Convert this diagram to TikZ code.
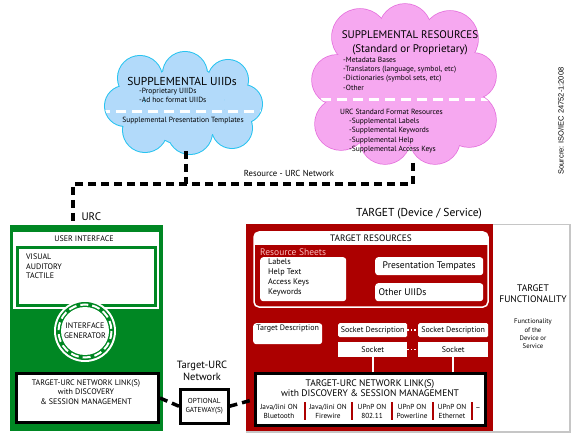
\documentclass[tikz,border=0pt]{standalone}
\usepackage{fontspec}
\setmainfont{PT Sans}
\newfontfamily\srcfont{Liberation Sans}
\usetikzlibrary{positioning}

\definecolor{urcgreen}{RGB}{0,135,35}
\definecolor{tgtred}{RGB}{172,0,0}
\definecolor{cloudblue}{RGB}{178,218,250}
\definecolor{cloudcyan}{RGB}{40,195,240}
\definecolor{cloudpink}{RGB}{246,168,240}
\definecolor{pinkedge}{RGB}{228,110,220}
\definecolor{sheetpink}{RGB}{250,190,190}

\tikzset{
  netline/.style={line width=3.5pt, dash pattern=on 8pt off 5pt},
  cutline/.style={white, line width=3pt, dash pattern=on 10pt off 6pt},
  whitebox/.style={fill=white, rounded corners=3pt, inner sep=2pt},
  linkbox/.style={draw=black, fill=white, line width=3pt, inner sep=0pt},
  tiny/.style={font=\fontsize{7.5}{9.2}\selectfont},
  small/.style={font=\fontsize{8}{9.5}\selectfont},
}

\begin{document}
\begin{tikzpicture}[x=1pt, y=-1pt]
    \useasboundingbox (0,0) rectangle (580,435);

    % clouds
    \def\uiidpuffs{140/78/22, 185/74/22, 228/80/20, 125/106/20, 243/104/19,
                   145/130/22, 190/132/22, 232/128/20, 185/105/40}
    \def\respuffs{360/37/28, 405/30/26, 450/39/28, 337/80/25, 341/124/26,
                  473/76/23, 469/120/27, 385/139/25, 435/139/25, 405/90/55}

    \foreach \cx/\cy/\r in \uiidpuffs
        \draw[cloudcyan, line width=2pt] (\cx,\cy) circle (\r);
    \foreach \cx/\cy/\r in \uiidpuffs
        \fill[cloudblue] (\cx,\cy) circle (\r);
    \begin{scope}
        \clip \foreach \cx/\cy/\r in \uiidpuffs {(\cx,\cy) circle (\r)};
        \draw[cutline] (100,112) -- (270,112);
    \end{scope}

    \foreach \cx/\cy/\r in \respuffs
        \draw[pinkedge, line width=1.5pt] (\cx,\cy) circle (\r);
    \foreach \cx/\cy/\r in \respuffs
        \fill[cloudpink] (\cx,\cy) circle (\r);
    \begin{scope}
        \clip \foreach \cx/\cy/\r in \respuffs {(\cx,\cy) circle (\r)};
        \draw[cutline] (305,100) -- (505,100);
    \end{scope}

    \node[font=\fontsize{11.5}{13}\selectfont] (uiidtitle) at (182,81) {SUPPLEMENTAL UIIDs};
    \node[tiny, align=left, anchor=north west, inner sep=0pt] (uiiditems) at (139,88) {-Proprietary UIIDs\\-Ad hoc format UIIDs};
    \node[tiny] (uiidtempl) at (183,121) {Supplemental Presentation Templates};

    \node[font=\fontsize{11}{14}\selectfont, align=center] (restitle) at (410,43) {SUPPLEMENTAL RESOURCES\\(Standard or Proprietary)};
    \node[tiny, align=left, anchor=north west, inner sep=0pt] (resitems) at (343,57)
        {-Metadata Bases\\-Translators (language, symbol, etc)\\-Dictionaries (symbol sets, etc)\\-Other};
    \node[tiny, align=left, anchor=north west, inner sep=0pt] (urcres) at (340,109)
        {URC Standard Format Resources\\
         \hspace*{9pt}-Supplemental Labels\\
         \hspace*{9pt}-Supplemental Keywords\\
         \hspace*{9pt}-Supplemental Help\\
         \hspace*{9pt}-Supplemental Access Keys};

    % resource network
    \coordinate (uiidbot) at (186,151);
    \coordinate (resbot) at (413,163);
    \coordinate (netjoin) at (413,184);
    \coordinate (urctop) at (73,225);
    \draw[netline] (resbot) -- (netjoin) -| (urctop);
    \draw[netline] (uiidbot) -- (uiidbot |- netjoin);
    \node[font=\fontsize{8.7}{10}\selectfont, anchor=south] (netlabel) at (289,180) {Resource - URC Network};

    % URC
    \node[font=\fontsize{11}{12}\selectfont, anchor=west] (urclabel) at (78,217) {URC};
    \node[fill=urcgreen, minimum width=153, minimum height=206, anchor=north west, inner sep=0pt] (urcbox) at (10,225) {};
    \fill[white] (13,232) rectangle (159,309);
    \node[font=\fontsize{8}{9}\selectfont] (uilabel) at (84,239) {USER INTERFACE};
    \draw[urcgreen, line width=3pt] (17.5,247.5) rectangle (155.5,305.5);
    \node[font=\fontsize{8}{9.5}\selectfont, align=left, anchor=north west, inner sep=0pt] (modes) at (26,254) {VISUAL\\AUDITORY\\TACTILE};

    \coordinate (gen) at (85,331);
    \fill[white] (gen) circle (31);
    \fill[urcgreen] (gen) circle (29);
    \draw[white, line width=2pt, dash pattern=on 8pt off 4pt] (gen) circle (26.5);
    \fill[white] (gen) circle (24);
    \node[font=\fontsize{8}{10}\selectfont, align=center] (genlabel) at (gen) {INTERFACE\\GENERATOR};

    \node[linkbox, minimum width=142, minimum height=49, anchor=north west] (urclink) at (15,372) {};
    \node[font=\fontsize{8}{9.2}\selectfont, align=center] (urclinktxt) at (86,392) {TARGET-URC NETWORK LINK(S)\\with DISCOVERY\\\& SESSION MANAGEMENT};

    % target-urc network
    \node[font=\fontsize{10.5}{12.5}\selectfont, align=center] (tunet) at (202,371) {Target-URC\\Network};
    \node[linkbox, line width=2.5pt, minimum width=48, minimum height=34, anchor=north west] (gateway) at (179,388) {};
    \node[font=\fontsize{7.2}{9}\selectfont, align=center] (gwtxt) at (gateway) {OPTIONAL\\GATEWAY(S)};

    % target
    \node[font=\fontsize{11.5}{13}\selectfont] (tgtlabel) at (419,214) {TARGET (Device / Service)};
    \node[draw=gray!45, line width=1.5pt, minimum width=323, minimum height=207, anchor=north west, inner sep=0pt] (target) at (246,224) {};
    \fill[tgtred] (246,224) rectangle (493,431);

    \draw[white, line width=1.5pt, rounded corners=5pt] (254,232) rectangle (488,307);
    \fill[white, rounded corners=5pt] (254,232) rectangle (488,245);
    \fill[white] (254,240) rectangle (488,245);
    \node[font=\fontsize{9.3}{10}\selectfont] (tgtres) at (371,238) {TARGET RESOURCES};
    \node[text=sheetpink, font=\fontsize{9.5}{10}\selectfont, anchor=west, inner sep=0pt] (sheetlabel) at (260,252) {Resource Sheets};
    \node[whitebox, minimum width=86, minimum height=44, anchor=north west] (sheets) at (260,257) {};
    \node[font=\fontsize{8.2}{9.8}\selectfont, align=left, anchor=north west, inner sep=0pt] (sheettxt) at (268,259) {Labels\\Help Text\\Access Keys\\Keywords};
    \node[whitebox, minimum width=108, minimum height=18, anchor=north west] (templates) at (375,257) {};
    \node[font=\fontsize{9.6}{10}\selectfont] at (templates) {Presentation Tempates};
    \node[whitebox, minimum width=108, minimum height=18, anchor=north west] (others) at (375,283) {};
    \node[font=\fontsize{9.6}{10}\selectfont, anchor=west] at (others.west) {Other UIIDs};

    \node[whitebox, minimum width=69, minimum height=21, anchor=north west] (tgtdesc) at (253,323) {};
    \node[font=\fontsize{8}{9}\selectfont, anchor=north, inner sep=2pt] at (tgtdesc.north) {Target Description};

    \node[whitebox, rounded corners=1.5pt, minimum width=69, minimum height=14, anchor=north west, inner sep=0pt, font=\fontsize{8}{9}\selectfont] (sdescA) at (338,323) {Socket Description};
    \node[whitebox, rounded corners=1.5pt, minimum width=70, minimum height=14, anchor=north west, inner sep=0pt, font=\fontsize{8}{9}\selectfont] (sdescB) at (418,323) {Socket Description};
    \node[fill=white, minimum width=69, minimum height=15, anchor=north west, inner sep=0pt, font=\fontsize{8}{9}\selectfont] (sockA) at (338,342) {Socket};
    \node[fill=white, minimum width=70, minimum height=15, anchor=north west, inner sep=0pt, font=\fontsize{8}{9}\selectfont] (sockB) at (418,342) {Socket};
    \draw[white, line width=1.5pt, dotted] (sdescA) -- (sdescB);
    \draw[white, line width=1.5pt, dotted] (sockA) -- (sockB);

    \node[linkbox, minimum width=230, minimum height=52, anchor=north west] (tgtlink) at (254,372) {};
    \draw[white, line width=2pt] (sockA.south) -- (sockA.south |- tgtlink.north);
    \draw[white, line width=2pt] (sockB.south) -- (sockB.south |- tgtlink.north);
    \node[font=\fontsize{9.5}{10.5}\selectfont, align=center] (tgtlinktxt) at (370,388) {TARGET-URC NETWORK LINK(S)\\with DISCOVERY \& SESSION MANAGEMENT};
    \foreach \px/\top/\bot/\nm in {279/Java\slash Jini ON/Bluetooth/pA, 328/Java\slash Jini ON/Firewire/pB,
                                   372/UPnP ON/802.11/pC, 412/UPnP ON/Powerline/pD, 452/UPnP ON/Ethernet/pE}
        \node[font=\fontsize{7.3}{9}\selectfont, align=center] (\nm) at (\px,411) {\top\\\bot};
    \node[small] (pF) at (478,409) {--};
    \foreach \sx in {305,352,392,433,472}
        \draw[tgtred, line width=1.5pt] (\sx,402) -- (\sx,420);

    \draw[netline] (urclink.east) -- (gateway.west);
    \draw[netline] (gateway.east) -- (tgtlink.west);

    % functionality
    \node[font=\fontsize{9.5}{11}\selectfont, align=center] (func) at (533,294) {TARGET\\FUNCTIONALITY};
    \node[font=\fontsize{6.7}{8.3}\selectfont, align=center] (functxt) at (533,334) {Functionality\\of the\\Device or\\Service};

    % source
    \node[font=\srcfont\fontsize{7.5}{9}\selectfont, rotate=90] (source) at (561,121) {Sourcre: ISO/IEC 24752-1:2008};
\end{tikzpicture}
\end{document}
